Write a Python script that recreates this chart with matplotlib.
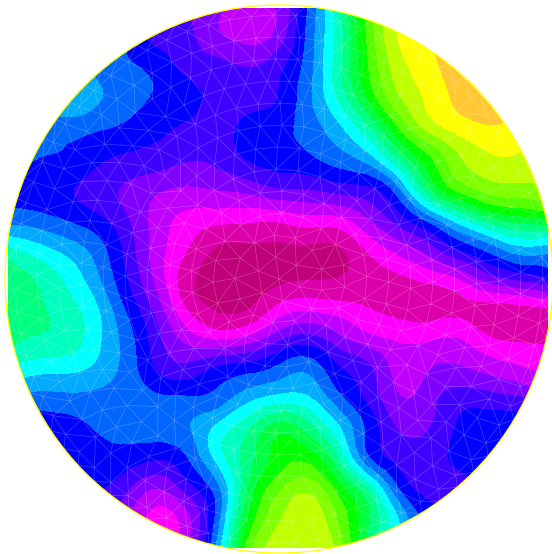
import numpy as np
import matplotlib
matplotlib.use("Agg")
import matplotlib.pyplot as plt
import matplotlib.tri as mtri
from matplotlib.colors import ListedColormap, BoundaryNorm
from matplotlib.patches import Circle

# sample positions (pixels of the picture)
grid_x = [8, 38, 68, 98, 128, 158, 188, 218, 248, 278, 308, 338, 368, 398, 428, 458, 488, 518, 548]
grid_y = [8, 38, 68, 98, 128, 158, 188, 218, 248, 278, 308, 338, 368, 398, 428, 458, 488, 518, 548]

# field values per row
row_008 = [7, 7, 7, 7, 6, 5, 4.5, 3.7, 3.0, 3.6, 6.5, 10, 14, 16.5, 17.5, 18, 18, 18, 18]
row_038 = [7, 7, 7, 7.5, 6.3, 5.2, 4.7, 3.7, 3.2, 3.9, 6.8, 9.9, 13.7, 16.5, 17.4, 18, 18, 18, 18]
row_068 = [7.5, 7.5, 7.5, 7.3, 6.7, 6.1, 5.2, 4.9, 4.5, 5.2, 7.0, 10.1, 13.4, 16, 17.1, 18, 18, 18, 18]
row_098 = [7.5, 7.5, 8.3, 7.6, 7.0, 6.3, 5.8, 5.2, 5.1, 5.5, 7.2, 9.6, 12.6, 15.3, 16.7, 17.7, 17.9, 17.9, 17.9]
row_128 = [7, 7, 6.9, 6.6, 6.2, 5.7, 5.3, 5.1, 5.8, 6.2, 6.9, 8.2, 10.3, 13.4, 15.8, 16.9, 17.4, 17.1, 17]
row_158 = [7, 6.5, 6.3, 5.7, 5.3, 5.05, 4.6, 4.8, 5.6, 6.0, 6.3, 7.0, 8.0, 10.6, 13.2, 15.3, 16.3, 16.4, 16.4]
row_188 = [6.5, 6, 5.6, 5, 4.3, 3.7, 3.4, 3.6, 3.9, 4.5, 4.6, 5, 5.3, 7.3, 11.3, 13.9, 15, 15.2, 15.3]
row_218 = [7, 6.8, 6.3, 5.65, 4.5, 3.0, 2.2, 1.9, 1.8, 1.8, 2.2, 2.3, 3.5, 5, 7, 9.3, 11.3, 12.2, 12.5]
row_248 = [9.6, 8.8, 8, 6.9, 5, 2.9, 1.5, .4, .35, .3, .35, .4, 1.7, 2.9, 4, 5.6, 6.9, 8.2, 8]
row_278 = [11.2, 10.3, 9.2, 7.6, 5.4, 3, .8, .1, 0, .2, .4, .5, 1, 1.3, 1.8, 2.5, 4, 4.8, 5.6]
row_308 = [11.5, 10.7, 9.9, 8.5, 6.2, 3.9, 1.3, .35, .4, 1.7, 2.2, 1.9, 1.5, 1.1, 1, 1.2, 1.1, 1.2, 1.5]
row_338 = [10.9, 10.4, 10.1, 8.7, 6.9, 4.7, 3, 2.3, 2.7, 4.1, 4.8, 3.8, 2.8, 2.3, 2.3, 2.45, 1.6, 1.3, 1.3]
row_368 = [9.5, 8.9, 8.8, 8.2, 7, 5.3, 4.8, 5.6, 6, 6.7, 7.2, 5.6, 4.7, 3.1, 3.4, 3.6, 3.1, 2.6, 2]
row_398 = [7.5, 7.1, 7.2, 7.2, 7, 6.7, 6.6, 6.9, 8.1, 8.8, 8.6, 6.8, 5.2, 3.6, 4, 5, 4.9, 4.6, 3.8]
row_428 = [6, 6, 6.1, 6.6, 6.9, 7, 7.4, 8.8, 10.3, 12, 11, 8.7, 6.2, 4.4, 4.4, 5.6, 6, 6, 5.5]
row_458 = [6, 6, 6, 6, 6, 5.6, 6.5, 8.9, 11, 12.9, 13.1, 10.5, 6.6, 5.2, 5.1, 5.7, 6, 6, 6]
row_488 = [6, 6, 6, 5.6, 4.6, 3.5, 5, 7.2, 11.5, 14.2, 15.2, 13, 10.2, 6.5, 5.2, 5.2, 5.5, 6, 6]
row_518 = [6, 6, 6, 5, 3.5, 2, 3.2, 7, 12.5, 15.3, 16.2, 14.4, 11.6, 8.5, 6, 5.5, 5.5, 6, 6]
row_548 = [6, 6, 6, 5, 3, 2, 4, 8, 14, 15.8, 16.3, 15.2, 11, 8, 6, 5.5, 5.5, 6, 6]

rows = [row_008, row_038, row_068, row_098, row_128, row_158, row_188, row_218, row_248,
        row_278, row_308, row_338, row_368, row_398, row_428, row_458, row_488, row_518, row_548]

band_colors = ["#bf0078", "#dc00aa", "#ff00ff", "#bf00ff", "#8000ff", "#4000ff", "#0000ff",
               "#0066ff", "#00aaff", "#00ffff", "#00ffbf", "#00ff80", "#00ff40", "#00ff00",
               "#55ff00", "#80ff00", "#bfff00", "#ffff00", "#ffc832"]

cx, cy, radius = 279.0, 279.0, 274.0

X, Y = np.meshgrid(grid_x, grid_y)
Z = np.array(rows, dtype=float)

levels = np.arange(-0.5, len(band_colors), 1.0)
cmap = ListedColormap(band_colors)
norm = BoundaryNorm(levels, cmap.N)

fig = plt.figure(figsize=(5.52, 5.54), dpi=100)
ax = fig.add_axes([0, 0, 1, 1])
ax.set_xlim(0, 552)
ax.set_ylim(554, 0)
ax.axis("off")

tri = mtri.Triangulation(X.ravel(), Y.ravel())
refiner = mtri.UniformTriRefiner(tri)
tri_f, z_f = refiner.refine_field(Z.ravel(), subdiv=2)
z_f = np.clip(z_f, levels[0] + 0.01, levels[-1] - 0.01)

disc = Circle((cx, cy), radius, transform=ax.transData, fc="none", ec="none")
ax.add_patch(disc)
cs = ax.tricontourf(tri_f, z_f, levels=levels, cmap=cmap, norm=norm, antialiased=False)
cs.set_clip_path(disc)

# thin white mesh
step = 22.0
mx, my = [cx], [cy]
for k in range(1, int(radius // step) + 2):
    r = min(k * step, radius)
    n = int(round(2 * np.pi * r / step))
    a = np.linspace(0, 2 * np.pi, n, endpoint=False) + 0.37 * k
    mx.extend(cx + r * np.cos(a))
    my.extend(cy + r * np.sin(a))
mesh = mtri.Triangulation(mx, my)
lines = ax.triplot(mesh, color="white", lw=0.5, alpha=0.25)
for ln in lines:
    ln.set_clip_path(disc)

ax.add_patch(Circle((cx, cy), radius, fc="none", ec="#ffff00", lw=0.9))
fig.savefig("out.png", dpi=100, facecolor="white")
